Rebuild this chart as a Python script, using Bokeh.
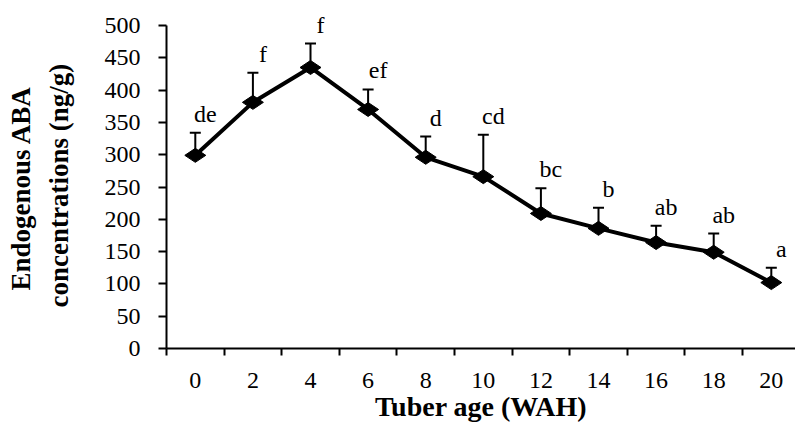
import math
from bokeh.plotting import figure
from bokeh.models import Range1d, FixedTicker, ColumnDataSource, Title
from bokeh.core.properties import value
from bokeh.embed import file_html
from bokeh.resources import INLINE

# ---- data ----
weeks = [0, 2, 4, 6, 8, 10, 12, 14, 16, 18, 20]
aba = [299, 381, 435, 370, 296, 266, 209, 186, 164, 149, 102]
aba_err = [35, 46, 37, 31, 32, 65, 39, 32, 26, 29, 23]
letters = ["de", "f", "f", "ef", "d", "cd", "bc", "b", "ab", "ab", "a"]
y_ticks = [0, 50, 100, 150, 200, 250, 300, 350, 400, 450, 500]
y_title_lines = ["concentrations (ng/g)", "Endogenous ABA"]

tops = [a + e for a, e in zip(aba, aba_err)]
src = ColumnDataSource(dict(x=weeks, y=aba, top=tops, lab=letters))

FONT = "Liberation Serif"

p = figure(width=795, height=430, output_backend="svg", toolbar_location=None,
           x_range=Range1d(-1, 20.84), y_range=Range1d(0, 538.7),
           min_border_left=166, min_border_right=0, min_border_top=0,
           min_border_bottom=82)
p.background_fill_color = "white"
p.border_fill_color = "white"
p.outline_line_color = None
p.xgrid.visible = False
p.ygrid.visible = False

# error bars (upper only)
p.segment(x0="x", y0="y", x1="x", y1="top", source=src, line_color="black", line_width=2)
p.scatter(x="x", y="top", source=src, marker="dash", size=11, line_color="black", line_width=2)

# line + markers
p.line(x="x", y="y", source=src, line_color="black", line_width=4)
p.scatter(x="x", y="y", source=src, marker="diamond", size=21, angle=math.pi / 2,
          fill_color="black", line_color="black")

# letters
p.text(x="x", y="top", text="lab", source=src, text_font=value(FONT),
       text_font_size="24px", text_align="center", text_baseline="bottom",
       x_offset=10, y_offset=-6, text_color="black")

# x axis
xa = p.xaxis[0]
xa.ticker = FixedTicker(ticks=weeks, minor_ticks=[w - 1 for w in weeks] + [21])
xa.major_tick_out = 0
xa.major_tick_in = 0
xa.minor_tick_out = 7
xa.minor_tick_in = 0
xa.minor_tick_line_color = "black"
xa.minor_tick_line_width = 2
xa.axis_line_color = "black"
xa.axis_line_width = 2
xa.major_label_text_font = FONT
xa.major_label_text_font_size = "24px"
xa.major_label_text_color = "black"
xa.major_label_standoff = 17
xa.axis_label = "Tuber age (WAH)"
xa.axis_label_text_font = FONT
xa.axis_label_text_font_style = "bold"
xa.axis_label_text_font_size = "28px"
xa.axis_label_text_color = "black"
xa.axis_label_standoff = 0

# y axis
ya = p.yaxis[0]
ya.ticker = FixedTicker(ticks=y_ticks)
ya.bounds = (0, 500)
ya.minor_tick_out = 0
ya.minor_tick_in = 0
ya.major_tick_out = 8
ya.major_tick_in = 0
ya.major_tick_line_color = "black"
ya.major_tick_line_width = 2
ya.axis_line_color = "black"
ya.axis_line_width = 2
ya.major_label_text_font = FONT
ya.major_label_text_font_size = "24px"
ya.major_label_text_color = "black"
ya.major_label_standoff = 18

t1 = Title(text=y_title_lines[0], align="left", offset=41, standoff=55,
           text_font=FONT, text_font_style="bold", text_font_size="27px", text_color="black")
t2 = Title(text=y_title_lines[1], align="left", offset=58, standoff=-42,
           text_font=FONT, text_font_style="bold", text_font_size="27px", text_color="black")
p.add_layout(t1, "left")
p.add_layout(t2, "left")

open("out.html", "w").write(file_html(p, INLINE))
